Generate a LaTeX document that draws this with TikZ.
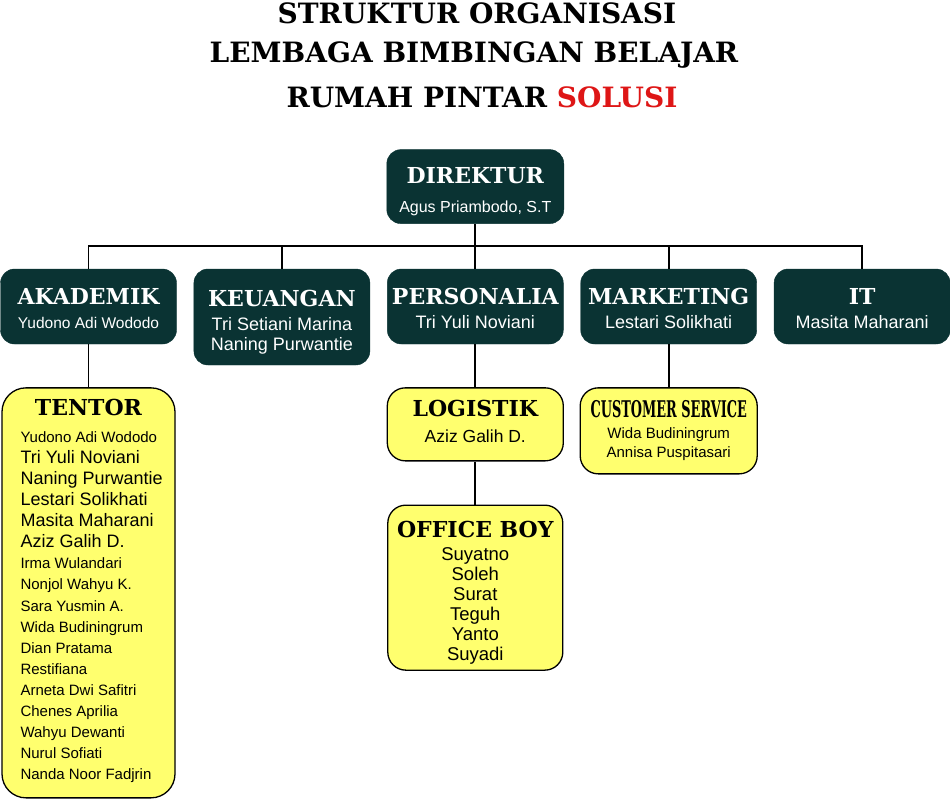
\documentclass[tikz,border=0pt]{standalone}
\usepackage{fontspec}
\setmainfont{Liberation Sans}
\newfontfamily\judulfont{DejaVu Serif}
\usetikzlibrary{positioning,calc}
\definecolor{hijautua}{RGB}{10,51,51}
\definecolor{kuningmuda}{RGB}{255,255,110}
\definecolor{merahsolusi}{RGB}{222,22,22}

\newcommand{\judulbesar}{\judulfont\bfseries\fontsize{28}{32}\selectfont}
\newcommand{\judulkotak}{\judulfont\bfseries\fontsize{22}{26}\selectfont}
\newcommand{\judulsempit}[1]{\scalebox{0.56}[1]{\judulfont\bfseries\fontsize{23}{26}\selectfont #1}}
\newcommand{\namabesar}{\fontsize{18}{21.1}\selectfont}
\newcommand{\namakecil}{\fontsize{15}{21.1}\selectfont}
\newcommand{\penyangga}[1]{\rule{0pt}{#1}}

\tikzset{
  bagian/.style={
    rectangle,
    rounded corners=14pt,
    fill=hijautua, draw=hijautua,
    text=white,
    minimum width=176pt,
    minimum height=75pt,
    align=center,
    inner sep=1pt,
    font=\fontsize{18}{20}\selectfont},
  subbagian/.style={
    rectangle,
    rounded corners=18pt,
    fill=kuningmuda,
    draw=black, line width=1.3pt,
    minimum width=176pt,
    align=center,
    inner sep=1pt,
    font=\fontsize{17.5}{20}\selectfont},
  teks/.style={inner sep=0pt},
  garis/.style={draw, line width=1.8pt},
}

\begin{document}
\begin{tikzpicture}[x=1pt, y=1pt, node distance=17pt]
  \useasboundingbox (0,0) rectangle (950,-800);
  % judul
  \node[teks, anchor=base] (judul1) at (477,-24) {\judulbesar STRUKTUR ORGANISASI};
  \node[teks, anchor=base] (judul2) at (474,-63) {\judulbesar LEMBAGA BIMBINGAN BELAJAR};
  \node[teks, anchor=base] (judul3) at (482,-107)
    {\judulbesar RUMAH PINTAR \textcolor{merahsolusi}{SOLUSI}};

  % baris bagian
  \node[bagian] (akademik) at (88.5,-306.5)
    {\penyangga{21pt}\judulkotak AKADEMIK\\[4pt] \fontsize{15.5}{20}\selectfont Yudono Adi Wododo};
  \node[bagian, minimum height=96pt, right=of akademik.north east, anchor=north west]
    (keuangan) {\penyangga{26pt}\judulkotak KEUANGAN\\[4pt] Tri Setiani Marina\\ Naning Purwantie};
  \node[bagian, right=of keuangan.north east, anchor=north west]
    (personalia) {\penyangga{21pt}\judulkotak PERSONALIA\\[4pt] Tri Yuli Noviani};
  \node[bagian, right=of personalia.north east, anchor=north west]
    (marketing) {\penyangga{21pt}\judulkotak MARKETING\\[4pt] Lestari Solikhati};
  \node[bagian, right=of marketing.north east, anchor=north west]
    (it) {\penyangga{21pt}\judulkotak IT\\[4pt] Masita Maharani};
  \node[bagian, minimum width=177pt, minimum height=74pt, above=45pt of personalia]
    (direktur) {\penyangga{26pt}\judulkotak DIREKTUR\\[9pt] \fontsize{16}{20}\selectfont Agus Priambodo, S.T};

  % kotak kuning
  \node[subbagian, rounded corners=24pt, minimum width=173pt, minimum height=410pt,
    below=43pt of akademik] (tentor) {};
  \node[teks, below=12pt of tentor.north] (judultentor) {\judulkotak TENTOR};
  \node[teks, align=left, anchor=north west, font=\namakecil] (daftartentor)
    at ($(tentor.north west)+(19,-44)$)
    {Yudono Adi Wododo\\ \namabesar Tri Yuli Noviani\\ \namabesar Naning Purwantie\\
     \namabesar Lestari Solikhati\\ \namabesar Masita Maharani\\ \namabesar Aziz Galih D.\\
     Irma Wulandari\\ Nonjol Wahyu K.\\ Sara Yusmin A.\\ Wida Budiningrum\\
     Dian Pratama\\ Restifiana\\ Arneta Dwi Safitri\\ Chenes Aprilia\\
     Wahyu Dewanti\\ Nurul Sofiati\\ Nanda Noor Fadjrin};
  \node[subbagian, minimum height=73pt, below=43pt of personalia]
    (logistik) {\judulkotak LOGISTIK\\[6pt] Aziz Galih D.\rule[-7pt]{0pt}{0pt}};
  \node[subbagian, minimum width=175pt, minimum height=165pt, below=43pt of logistik,
    font=\fontsize{18.5}{20}\selectfont]
    (officeboy) {\penyangga{26pt}\judulkotak OFFICE BOY\\[3pt] Suyatno\\ Soleh\\ Surat\\ Teguh\\ Yanto\\ Suyadi};
  \node[subbagian, minimum width=177pt, minimum height=86pt, below=43pt of marketing,
    font=\fontsize{15}{19}\selectfont]
    (cs) {\judulsempit{CUSTOMER SERVICE}\\[2pt] Wida Budiningrum\\ Annisa Puspitasari};

  % garis penghubung
  \coordinate (cabang) at ($(direktur.south)+(0,-22)$);
  \draw[garis] (direktur.south) -- (personalia.north);
  \draw[garis] (akademik.north) |- (cabang) -| (it.north);
  \foreach \bag in {keuangan,marketing}
    \draw[garis] (\bag.north) -- (\bag.north |- cabang);
  \draw[garis] (akademik.south) -- (tentor.north);
  \draw[garis] (personalia.south) -- (logistik.north);
  \draw[garis] (logistik.south) -- (officeboy.north);
  \draw[garis] (marketing.south) -- (cs.north);
\end{tikzpicture}
\end{document}
